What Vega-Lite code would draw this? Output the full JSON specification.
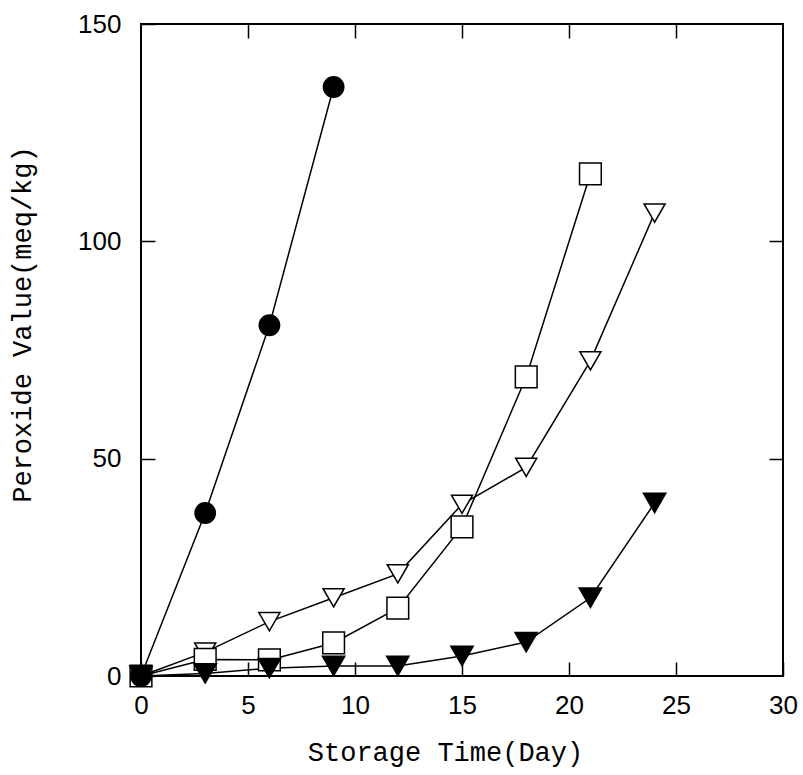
{
  "$schema": "https://vega.github.io/schema/vega-lite/v6.json",
  "width": 642,
  "height": 652,
  "autosize": "none",
  "padding": {"left": 141, "top": 24, "right": 20, "bottom": 99},
  "background": "white",
  "config": {
    "view": {"stroke": "black", "strokeWidth": 2},
    "axis": {
      "grid": false,
      "domain": false,
      "tickColor": "black",
      "tickWidth": 1.5,
      "tickSize": -14,
      "labelColor": "black",
      "titleColor": "black",
      "labelFont": "Liberation Sans",
      "labelFontSize": 26,
      "labelFlush": false,
      "labelOverlap": false,
      "titleFont": "Liberation Mono",
      "titleFontSize": 27,
      "titleFontWeight": "normal"
    }
  },
  "data": {
    "values": [
      {"series": "B", "day": 0, "pv": 0},
      {"series": "B", "day": 3, "pv": 5.5},
      {"series": "B", "day": 6, "pv": 12.5},
      {"series": "B", "day": 9, "pv": 18},
      {"series": "B", "day": 12, "pv": 23.5},
      {"series": "B", "day": 15, "pv": 39.5},
      {"series": "B", "day": 18, "pv": 48},
      {"series": "B", "day": 21, "pv": 72.5},
      {"series": "B", "day": 24, "pv": 106.5},
      {"series": "C", "day": 0, "pv": 0},
      {"series": "C", "day": 3, "pv": 3.8},
      {"series": "C", "day": 6, "pv": 3.7},
      {"series": "C", "day": 9, "pv": 7.6},
      {"series": "C", "day": 12, "pv": 15.6},
      {"series": "C", "day": 15, "pv": 34.3},
      {"series": "C", "day": 18, "pv": 68.8},
      {"series": "C", "day": 21, "pv": 115.5},
      {"series": "D", "day": 0, "pv": 0},
      {"series": "D", "day": 3, "pv": 0.6},
      {"series": "D", "day": 6, "pv": 1.8},
      {"series": "D", "day": 9, "pv": 2.3},
      {"series": "D", "day": 12, "pv": 2.3},
      {"series": "D", "day": 15, "pv": 4.6},
      {"series": "D", "day": 18, "pv": 7.8},
      {"series": "D", "day": 21, "pv": 18},
      {"series": "D", "day": 24, "pv": 39.8},
      {"series": "A", "day": 0, "pv": 0},
      {"series": "A", "day": 3, "pv": 37.5},
      {"series": "A", "day": 6, "pv": 80.7},
      {"series": "A", "day": 9, "pv": 135.5}
    ]
  },
  "layer": [
    {
      "mark": {"type": "line", "color": "black", "strokeWidth": 1.5},
      "encoding": {
        "x": {
          "field": "day", "type": "quantitative",
          "scale": {"domain": [0, 30]},
          "axis": {
            "orient": "bottom",
            "values": [0, 5, 10, 15, 20, 25, 30],
            "labelPadding": 30,
            "title": "Storage Time(Day)",
            "titleX": 304,
            "titleY": 76,
            "titleAlign": "center",
            "titleBaseline": "middle"
          }
        },
        "y": {
          "field": "pv", "type": "quantitative",
          "scale": {"domain": [0, 150]},
          "axis": {
            "orient": "left",
            "values": [0, 50, 100, 150],
            "labelPadding": 34,
            "title": "Peroxide Value(meq/kg)",
            "titleX": -119,
            "titleY": 300,
            "titleAngle": -90,
            "titleAlign": "center",
            "titleBaseline": "middle"
          }
        },
        "detail": {"field": "series"}
      }
    },
    {
      "mark": {"type": "point", "filled": true, "stroke": "black", "strokeWidth": 1.5, "opacity": 1},
      "encoding": {
        "x": {
          "field": "day", "type": "quantitative",
          "scale": {"domain": [0, 30]},
          "axis": {"orient": "top", "values": [5, 10, 15, 20, 25], "labels": false, "title": null}
        },
        "y": {
          "field": "pv", "type": "quantitative",
          "scale": {"domain": [0, 150]},
          "axis": {"orient": "right", "values": [50, 100], "labels": false, "title": null}
        },
        "shape": {
          "field": "series", "type": "nominal",
          "scale": {"domain": ["A", "B", "C", "D"], "range": ["circle", "triangle-down", "square", "triangle-down"]},
          "legend": null
        },
        "fill": {
          "field": "series", "type": "nominal",
          "scale": {"domain": ["A", "B", "C", "D"], "range": ["black", "white", "white", "black"]},
          "legend": null
        },
        "size": {
          "field": "series", "type": "nominal",
          "scale": {"domain": ["A", "B", "C", "D"], "range": [415, 500, 360, 500]},
          "legend": null
        }
      }
    }
  ],
  "resolve": {"axis": {"x": "independent", "y": "independent"}}
}
